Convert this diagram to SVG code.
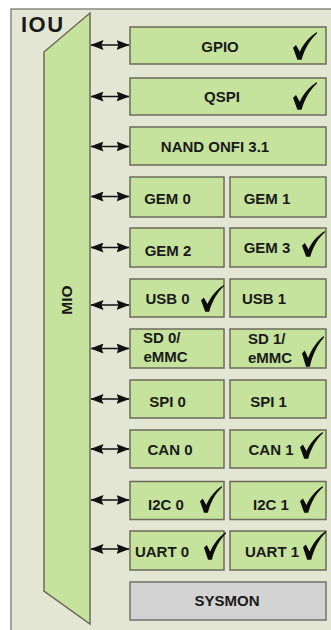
<svg xmlns="http://www.w3.org/2000/svg" xmlns:xlink="http://www.w3.org/1999/xlink" width="331" height="630" viewBox="0 0 331 630">
<style>
.box{fill:#c5e39d;stroke:#6d6a5c;stroke-width:1.5}
.gray{fill:#d3d3d3;stroke:#707070;stroke-width:1.5}
.t{font-family:"Liberation Sans",Arial,sans-serif;font-weight:bold;font-size:15px;fill:#1a1a1a}
.m{text-anchor:middle}
.conn line{stroke:#111;stroke-width:1.5;marker-start:url(#ah);marker-end:url(#ah)}
</style>
<defs>
<marker id="ah" markerUnits="userSpaceOnUse" markerWidth="13" markerHeight="10" viewBox="0 0 13 10" refX="12.5" refY="5" orient="auto-start-reverse">
<path d="M0,0 L13,5 L0,10 L2,5 Z" fill="#111"/>
</marker>
<symbol id="chk" viewBox="0 0 24 28" preserveAspectRatio="none">
<path d="M0,15.8 L3,13 L6.8,19.8 C10,12 17,4 24,0 L24,1.4 C17,7.5 11.5,17 8.6,27.8 L4.4,27.8 Z" fill="#0d0d0d"/>
</symbol>
</defs>
<rect x="0" y="0" width="331" height="630" fill="#ffffff"/>
<rect id="frame" x="11" y="9" width="330" height="630" fill="#e2e6d3" stroke="#8a8a7e" stroke-width="1.5"/>
<text class="t" x="21" y="32" style="font-size:22px;letter-spacing:1.5px">IOU</text>
<g id="mio">
<polygon points="44,52 90,13 90,624 44,591" fill="#c5e39d" stroke="#6d6a5c" stroke-width="1.5"/>
<text class="t m" transform="translate(72,300) rotate(-90)" style="font-size:15.5px">MIO</text>
</g>
<g id="connectors" class="conn">
<line x1="91" y1="45" x2="129" y2="45"/>
<line x1="91" y1="96.5" x2="129" y2="96.5"/>
<line x1="91" y1="146.5" x2="129" y2="146.5"/>
<line x1="91" y1="196.5" x2="129" y2="196.5"/>
<line x1="91" y1="247.5" x2="129" y2="247.5"/>
<line x1="91" y1="305" x2="129" y2="305"/>
<line x1="91" y1="348.5" x2="129" y2="348.5"/>
<line x1="91" y1="399" x2="129" y2="399"/>
<line x1="91" y1="449" x2="129" y2="449"/>
<line x1="91" y1="500" x2="129" y2="500"/>
<line x1="91" y1="549" x2="129" y2="549"/>
</g>
<g id="gpio"><rect class="box" x="130" y="27" width="196" height="37"/><text class="t m" x="220" y="51.5">GPIO</text><use href="#chk" x="293" y="32" width="24" height="28"/></g>
<g id="qspi"><rect class="box" x="130" y="78" width="196" height="37"/><text class="t m" x="222" y="102">QSPI</text><use href="#chk" x="293" y="82" width="24" height="28"/></g>
<g id="nand"><rect class="box" x="130" y="127" width="196" height="38"/><text class="t m" x="215" y="151.5">NAND ONFI 3.1</text></g>
<g id="gem0"><rect class="box" x="130" y="177" width="94" height="40"/><text class="t m" x="167.5" y="203.5">GEM 0</text></g>
<g id="gem1"><rect class="box" x="230" y="177" width="96" height="40"/><text class="t m" x="267" y="203.5">GEM 1</text></g>
<g id="gem2"><rect class="box" x="130" y="228" width="94" height="39"/><text class="t m" x="168" y="256">GEM 2</text></g>
<g id="gem3"><rect class="box" x="230" y="228" width="96" height="39"/><text class="t m" x="267" y="253">GEM 3</text><use href="#chk" x="302" y="231" width="23" height="26"/></g>
<g id="usb0"><rect class="box" x="130" y="279" width="94" height="38"/><text class="t m" x="167.5" y="304">USB 0</text><use href="#chk" x="201" y="285" width="23" height="27"/></g>
<g id="usb1"><rect class="box" x="230" y="279" width="96" height="38"/><text class="t m" x="264" y="304">USB 1</text></g>
<g id="sd0"><rect class="box" x="130" y="329" width="94" height="39"/><text class="t" x="143" y="343">SD 0/</text><text class="t" x="143.5" y="361.5">eMMC</text></g>
<g id="sd1"><rect class="box" x="230" y="329" width="96" height="39"/><text class="t" x="248" y="344">SD 1/</text><text class="t" x="248" y="363">eMMC</text><use href="#chk" x="302" y="336" width="22" height="31"/></g>
<g id="spi0"><rect class="box" x="130" y="380" width="94" height="38"/><text class="t m" x="167.5" y="407">SPI 0</text></g>
<g id="spi1"><rect class="box" x="230" y="380" width="96" height="38"/><text class="t m" x="268.5" y="407">SPI 1</text></g>
<g id="can0"><rect class="box" x="130" y="430" width="94" height="38"/><text class="t m" x="170" y="455">CAN 0</text></g>
<g id="can1"><rect class="box" x="230" y="430" width="96" height="38"/><text class="t m" x="271" y="455">CAN 1</text><use href="#chk" x="300" y="432" width="23" height="27"/></g>
<g id="i2c0"><rect class="box" x="130" y="481.5" width="94" height="38"/><text class="t m" x="166" y="509.5">I2C 0</text><use href="#chk" x="200" y="486" width="22" height="27"/></g>
<g id="i2c1"><rect class="box" x="230" y="481.5" width="96" height="38"/><text class="t m" x="271" y="509.5">I2C 1</text><use href="#chk" x="300" y="486" width="23" height="27"/></g>
<g id="uart0"><rect class="box" x="130" y="531" width="94" height="39"/><text class="t m" x="162" y="557">UART 0</text><use href="#chk" x="204" y="532" width="22" height="28"/></g>
<g id="uart1"><rect class="box" x="230" y="531" width="96" height="39"/><text class="t m" x="272" y="557">UART 1</text><use href="#chk" x="303" y="531" width="23" height="29"/></g>
<g id="sysmon"><rect class="gray" x="130" y="582" width="196" height="38"/><text class="t m" x="227" y="606">SYSMON</text></g>
</svg>
